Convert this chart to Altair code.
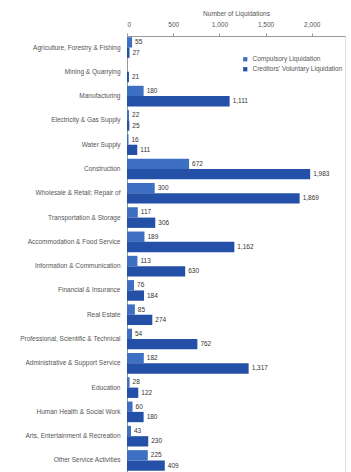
import altair as alt
import pandas as pd

categories = [
    "Agriculture, Forestry & Fishing", "Mining & Quarrying", "Manufacturing",
    "Electricity & Gas Supply", "Water Supply", "Construction",
    "Wholesale & Retail; Repair of", "Transportation & Storage",
    "Accommodation & Food Service", "Information & Communication",
    "Financial & Insurance", "Real Estate", "Professional, Scientific & Technical",
    "Administrative & Support Service", "Education", "Human Health & Social Work",
    "Arts, Entertainment & Recreation", "Other Service Activities",
]
compulsory = [55, None, 180, 22, 16, 672, 300, 117, 189, 113, 76, 85, 54, 182, 28, 60, 43, 225]
voluntary = [27, 21, 1111, 25, 111, 1983, 1869, 306, 1162, 630, 184, 274, 762, 1317, 122, 180, 230, 409]
series = ["Compulsory Liquidation", "Creditors' Voluntary Liquidation"]
colors = ["#3d6fc2", "#2450a8"]
tick_values = [0, 500, 1000, 1500, 2000]

rows = []
for c, a, b in zip(categories, compulsory, voluntary):
    rows.append({"cat": c, "series": series[0], "value": a})
    rows.append({"cat": c, "series": series[1], "value": b})
df = pd.DataFrame(rows)

FONT = "Liberation Sans"

y = alt.Y("cat:N", sort=categories, title=None,
          scale=alt.Scale(paddingInner=0.15, paddingOuter=0.05),
          axis=alt.Axis(labelFontSize=6.5, labelColor="#555", labelFont=FONT,
                        domainColor="#999", ticks=False, labelPadding=7,
                        labelLimit=130))
yoff = alt.YOffset("series:N", sort=series, scale=alt.Scale(paddingInner=0.0))
xaxis = alt.Axis(orient="top", values=tick_values,
                 labelExpr="format(datum.value, ',')",
                 grid=False, labelFontSize=6.5, labelColor="#555",
                 labelFont=FONT, titleFont=FONT, titleFontSize=6.5,
                 titleFontWeight="normal", titleColor="#555",
                 domainColor="#999", tickColor="#999", tickSize=3,
                 labelPadding=6, titlePadding=5)
x = alt.X("value:Q", title="Number of Liquidations",
          scale=alt.Scale(domain=[0, 2360], nice=False), axis=xaxis)

bars = alt.Chart(df).mark_bar().encode(
    y=y, yOffset=yoff, x=x,
    color=alt.Color("series:N", sort=series,
                    scale=alt.Scale(domain=series, range=colors),
                    legend=alt.Legend(title=None, orient="none", legendX=115, legendY=20,
                                      symbolType="square", symbolSize=18,
                                      labelFontSize=6.5, labelFont=FONT,
                                      labelColor="#555", rowPadding=3)),
)

labels = alt.Chart(df).mark_text(align="left", baseline="middle", dx=3,
                                 fontSize=6.5, font=FONT, color="#333").encode(
    y=y, yOffset=yoff, x=x,
    text=alt.Text("value:Q", format=","),
)

chart = (bars + labels).properties(
    width=218, height=436,
    padding={"left": 127, "top": 36, "right": 6, "bottom": 0},
    autosize=alt.AutoSizeParams(type="none"),
).configure_view(stroke=None).configure(background="white")

chart.save("out.html", embed_options={"renderer": "svg", "actions": False})
